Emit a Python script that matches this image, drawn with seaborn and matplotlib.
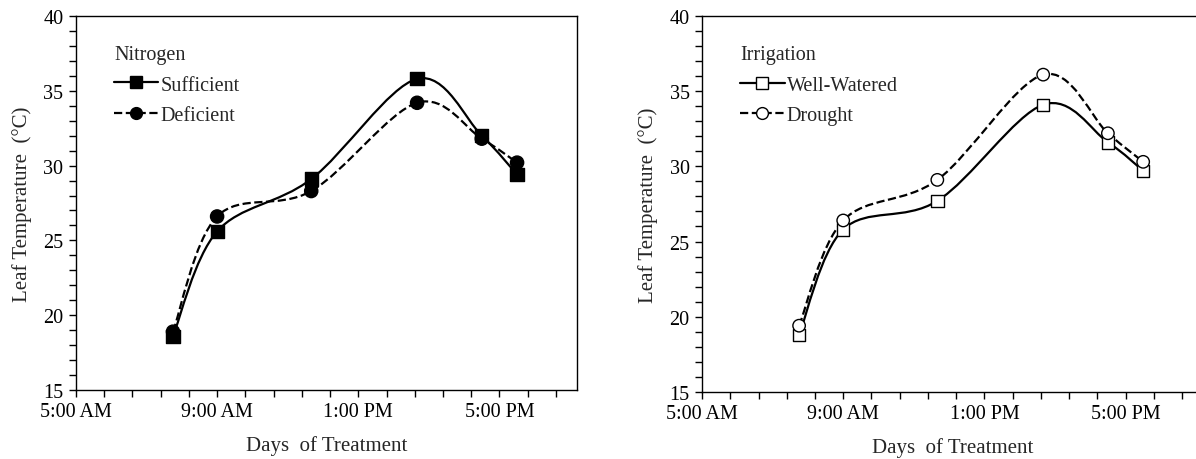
import numpy as np
import pandas as pd
import seaborn as sns
import matplotlib.pyplot as plt
from matplotlib.path import Path
from matplotlib.patches import PathPatch
from matplotlib.lines import Line2D

# sampling times (clock time)
times = ["7:45", "9:00", "11:40", "14:40", "16:30", "17:30"]

# leaf temperature (deg C)
sufficient = [18.6, 25.6, 29.1, 35.8, 32.0, 29.4]
deficient = [18.9, 26.6, 28.3, 34.2, 31.8, 30.2]
well_watered = [18.8, 25.8, 27.7, 34.1, 31.6, 29.7]
drought = [19.4, 26.4, 29.1, 36.1, 32.2, 30.3]

tick_labels = ["5:00 AM", "9:00 AM", "1:00 PM", "5:00 PM"]

hours = [int(t.split(":")[0]) + int(t.split(":")[1]) / 60 for t in times]

sns.set_style("ticks")
plt.rcParams["font.family"] = ["Liberation Serif", "DejaVu Serif"]
plt.rcParams["font.size"] = 14.5


def smooth_path(x, y):
    # Excel style smoothed line: cubic bezier through every point
    x = np.asarray(x, float)
    y = np.asarray(y, float)
    n = len(x)
    verts = [(x[0], y[0])]
    codes = [Path.MOVETO]
    for i in range(n - 1):
        i0 = max(i - 1, 0)
        i3 = min(i + 2, n - 1)
        c1 = (x[i] + (x[i + 1] - x[i0]) / 6, y[i] + (y[i + 1] - y[i0]) / 6)
        c2 = (x[i + 1] - (x[i3] - x[i]) / 6, y[i + 1] - (y[i3] - y[i]) / 6)
        verts += [c1, c2, (x[i + 1], y[i + 1])]
        codes += [Path.CURVE4] * 3
    return Path(verts, codes)


def panel(ax, title, names, series, markers, fill, msize):
    df = pd.DataFrame({
        "hour": hours * 2,
        "temp": series[0] + series[1],
        "group": [names[0]] * len(hours) + [names[1]] * len(hours),
    })
    styles = ["-", "--"]
    for s, ls in zip(series, styles):
        ax.add_patch(PathPatch(smooth_path(hours, s), facecolor="none",
                               edgecolor="black", lw=1.6, linestyle=ls, zorder=2))
    sns.scatterplot(data=df, x="hour", y="temp", style="group",
                    markers=dict(zip(names, markers)), s=[msize],
                    color=fill, edgecolor="black", linewidth=1.0,
                    legend=False, ax=ax, zorder=3)

    ax.set_xlim(5, 19.2)
    ax.set_ylim(15, 40)
    xt = np.arange(5, 19.2, 0.8)
    ax.set_xticks(xt)
    lab = [""] * len(xt)
    for k, t in enumerate(tick_labels):
        lab[k * 5] = t
    ax.set_xticklabels(lab)
    ax.set_yticks(np.arange(15, 41, 1))
    ax.set_yticklabels([str(v) if v % 5 == 0 else "" for v in range(15, 41)])
    ax.tick_params(direction="out", length=5, width=1, colors="black",
                   labelsize=14.5, pad=4)
    for sp in ax.spines.values():
        sp.set_color("black")
        sp.set_linewidth(1.0)
    ax.set_xlabel("Days  of Treatment", fontsize=15, labelpad=10)
    ax.set_ylabel("Leaf Temperature  (°C)", fontsize=15, labelpad=8)

    handles = [
        Line2D([], [], color="black", lw=1.6, ls=ls, marker=m, markersize=8.5,
               markerfacecolor=fill, markeredgecolor="black")
        for ls, m in zip(styles, markers)
    ]
    leg = ax.legend(handles, names, title=title, loc="upper left",
                    bbox_to_anchor=(0.04, 0.97), frameon=False,
                    fontsize=14.5, title_fontsize=14.5, handlelength=2.2,
                    handletextpad=0.1, labelspacing=0.55)
    leg._legend_box.align = "left"


fig = plt.figure(figsize=(11.96, 4.6), dpi=100)
ax1 = fig.add_axes([0.0635, 0.15, 0.419, 0.813])
ax2 = fig.add_axes([0.587, 0.146, 0.419, 0.817])

panel(ax1, "Nitrogen", ["Sufficient", "Deficient"],
      [sufficient, deficient], ["s", "o"], "black", 90)
panel(ax2, "Irrigation", ["Well-Watered", "Drought"],
      [well_watered, drought], ["s", "o"], "white", 80)
# the right border of the second panel falls outside the picture
ax2.spines["right"].set_visible(False)

fig.savefig("out.png", dpi=100)
